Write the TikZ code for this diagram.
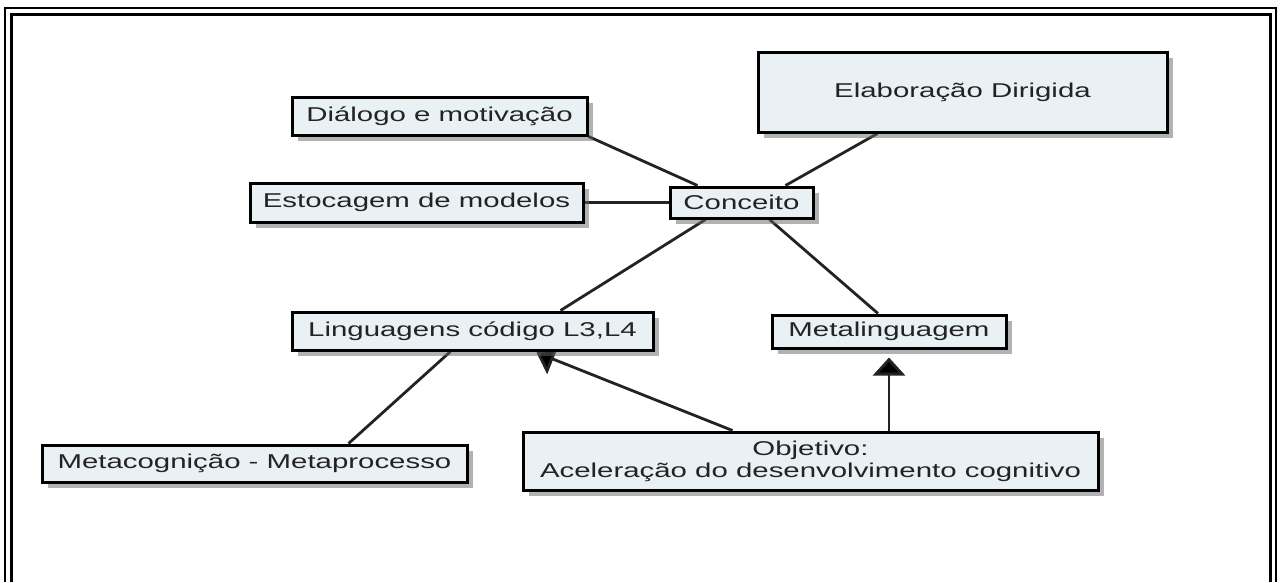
\documentclass[tikz,border=0pt]{standalone}
\usepackage{fontspec}
\setmainfont[FakeStretch=1.47]{Liberation Sans}
\usetikzlibrary{shadows,arrows.meta,backgrounds}
\definecolor{boxfill}{RGB}{234,241,244}
\definecolor{ink}{RGB}{35,35,35}

\begin{document}
\begin{tikzpicture}[x=1pt, y=-1pt,
  box/.style={draw=black, line width=3pt, fill=boxfill, text=ink, inner sep=0pt,
    font=\fontsize{20}{22}\selectfont, align=center,
    drop shadow={shadow xshift=6pt, shadow yshift=-6pt, fill=black!60}},
  link/.style={draw=ink, line width=2.8pt}]
  \useasboundingbox (0,0) rectangle (1283,582);
  % moldura dupla
  \draw[line width=2pt] (5,582) -- (5,8) -- (1276,8) -- (1276,582);
  \draw[line width=3pt] (11,582) -- (11,14) -- (1270.5,14) -- (1270.5,582);

  \node[box, minimum width=295pt, minimum height=38pt] (dial) at (439.5,116) {Diálogo e motivação};
  \node[box, minimum width=333pt, minimum height=39pt] (esto) at (416.5,202.5) {Estocagem de modelos};
  \node[box, minimum width=143pt, minimum height=31pt] (conc) at (741.5,202.5) {Conceito};
  \node[box, minimum width=409pt, minimum height=80pt] (elab) at (962.5,92) {Elaboração Dirigida};
  \node[box, minimum width=361pt, minimum height=38pt] (ling) at (472.5,331) {Linguagens código L3,L4};
  \node[box, minimum width=234pt, minimum height=33pt] (meta) at (889,331.5) {Metalinguagem};
  \node[box, minimum width=425pt, minimum height=37pt] (metac) at (254.5,463.5) {Metacognição - Metaprocesso};
  \node[box, minimum width=575pt, minimum height=58pt] (obj) at (810.5,461) {Objetivo:\\Aceleração do desenvolvimento cognitivo};

  \begin{scope}[on background layer]
  \path[link]
  (dial.south east) edge ([xshift=-44pt]conc.north)
  (esto) edge (conc)
  ([xshift=-85pt]elab.south) edge ([xshift=44pt]conc.north)
  ([xshift=-36pt]conc.south) edge ([xshift=88pt]ling.north)
  ([xshift=28pt]conc.south) edge ([xshift=-11pt]meta.north)
  ([xshift=-22pt]ling.south) edge ([xshift=94pt]metac.north);
  \path[link, -{Triangle[width=32pt,length=18pt]}]
  ([xshift=-78pt]obj.north) edge ([xshift=64pt,yshift=-1pt]ling.south)
  (obj.north -| meta.south) edge[shorten >=8pt] (meta.south);
  \end{scope}
\end{tikzpicture}
\end{document}
